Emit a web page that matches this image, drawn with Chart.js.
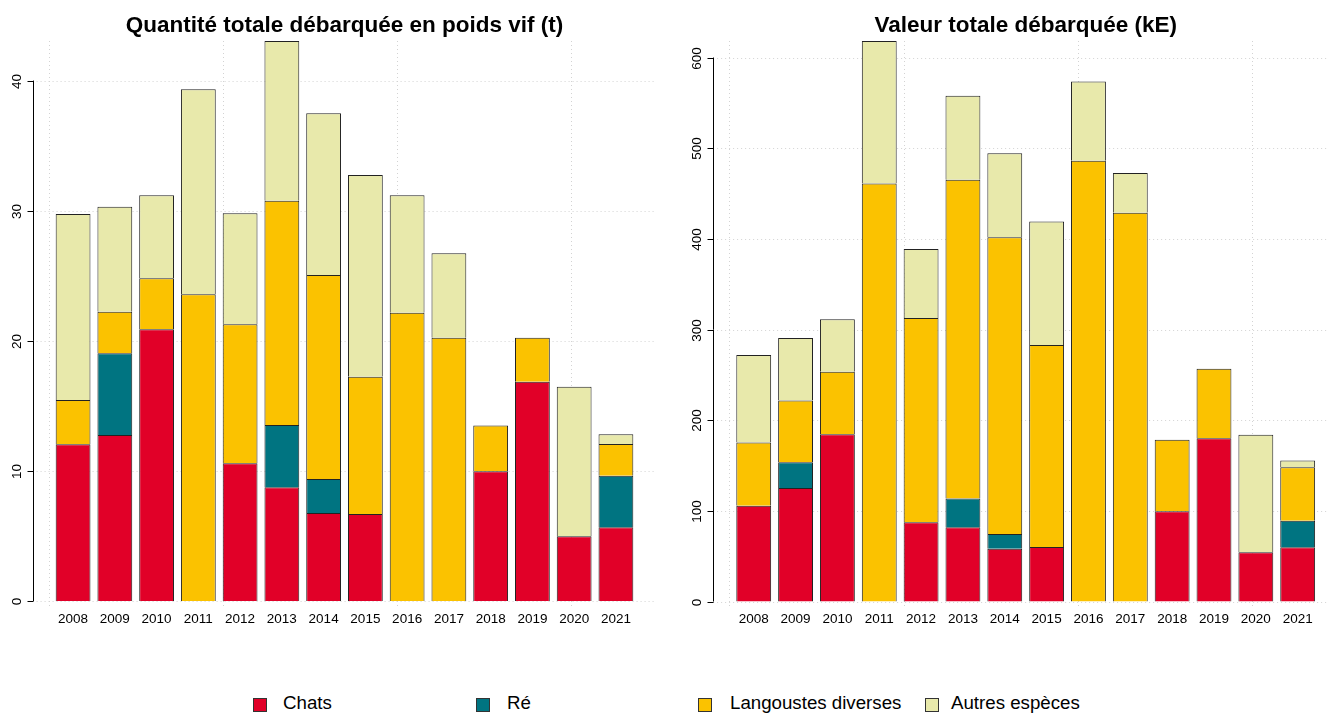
<!DOCTYPE html>
<html>
<head>
<meta charset="utf-8">
<script src="https://cdn.jsdelivr.net/npm/chart.js@4"></script>
<style>
  html, body { margin: 0; padding: 0; background: #fff; }
  body { width: 1327px; height: 713px; overflow: hidden; position: relative; font-family: "Liberation Sans", Arial, sans-serif; }
  canvas { position: absolute; top: 0; }
  #c1 { left: 0; }
  #c2 { left: 680px; }
  .leg { position: absolute; font-size: 18.7px; color: #000; white-space: nowrap; }
  .sq { position: absolute; top: 698px; width: 12px; height: 12px; border: 1px solid #333; }
  .lt { top: 692px; line-height: 22px; }
</style>
</head>
<body>
<canvas id="c1" width="680" height="640"></canvas>
<canvas id="c2" width="680" height="640"></canvas>

<div class="sq" style="left:253px;background:#E10028"></div><div class="leg lt" style="left:283px">Chats</div>
<div class="sq" style="left:476px;background:#007481"></div><div class="leg lt" style="left:507px">Ré</div>
<div class="sq" style="left:698px;background:#FBC200"></div><div class="leg lt" style="left:730px">Langoustes diverses</div>
<div class="sq" style="left:925px;background:#E8E9AB"></div><div class="leg lt" style="left:951px">Autres espèces</div>

<script>
const years = ["2008", "2009", "2010", "2011", "2012", "2013", "2014", "2015", "2016", "2017", "2018", "2019", "2020", "2021"];

// Quantité (t)
const poidsChats  = [12.04, 12.76, 20.88, 0, 10.58, 8.74, 6.76, 6.69, 0, 0, 9.97, 16.86, 4.97, 5.66];
const poidsRe     = [0, 6.28, 0, 0, 0, 4.79, 2.62, 0, 0, 0, 0, 0, 0, 3.97];
const poidsLang   = [3.4, 3.2, 3.92, 23.57, 10.69, 17.24, 15.68, 10.55, 22.16, 20.24, 3.51, 3.38, 0, 2.44];
const poidsAutres = [14.3, 8.07, 6.38, 15.76, 8.53, 12.27, 12.43, 15.5, 9.02, 6.48, 0, 0, 11.5, 0.74];
const poidsTicks  = [0, 10, 20, 30, 40];

// Valeur (kE)
const valeurChats  = [105.5, 125.3, 184.6, 0, 87.4, 81.9, 58.3, 60.2, 0, 0, 99.6, 180.2, 54.3, 59.9];
const valeurRe     = [0, 28.4, 0, 0, 0, 31.6, 16.2, 0, 0, 0, 0, 0, 0, 29.3];
const valeurLang   = [69.9, 68.1, 68.8, 461.1, 225.4, 351.6, 327.3, 222.7, 486.1, 428.7, 78.8, 76.6, 0, 59.0];
const valeurAutres = [96.5, 68.9, 57.8, 157.1, 76.1, 92.8, 92.7, 136.2, 87.3, 43.8, 0, 0, 129.6, 7.3];
const valeurTicks  = [0, 100, 200, 300, 400, 500, 600];

const COLORS = { chats: "#E10028", re: "#007481", lang: "#FBC200", autres: "#E8E9AB" };
const FONT = '"Liberation Sans", Arial, sans-serif';

// barplot units (width 1, space 0.2) -> category index
const u2i = u => (u - 0.7) / 1.2;
const U_MIN = -0.464, U_MAX = 17.464;

const rPlot = {
  id: "rPlot",
  beforeDatasetsDraw(chart, args, opts) {
    const { ctx, chartArea } = chart;
    const x = chart.scales.x, y = chart.scales.y;
    const x0 = x.getPixelForValue(u2i(U_MIN)), x1 = x.getPixelForValue(u2i(U_MAX));
    ctx.save();
    ctx.strokeStyle = "#D3D3D3";
    ctx.lineWidth = 1;
    ctx.setLineDash([1, 3]);
    opts.ticks.forEach(t => {
      const py = Math.round(y.getPixelForValue(t)) + 0.5;
      ctx.beginPath(); ctx.moveTo(x0, py); ctx.lineTo(x1, py); ctx.stroke();
    });
    [0, 5, 10, 15].forEach(u => {
      const px = Math.round(x.getPixelForValue(u2i(u))) + 0.5;
      ctx.beginPath(); ctx.moveTo(px, chartArea.top); ctx.lineTo(px, chartArea.bottom); ctx.stroke();
    });
    ctx.restore();
  },
  afterDraw(chart, args, opts) {
    const { ctx } = chart;
    const x = chart.scales.x, y = chart.scales.y;
    const x0 = x.getPixelForValue(u2i(U_MIN)), x1 = x.getPixelForValue(u2i(U_MAX));
    const ax = Math.round(x0) + 0.5;
    ctx.save();
    // y axis, R style
    ctx.strokeStyle = "#000";
    ctx.lineWidth = 1;
    ctx.beginPath();
    ctx.moveTo(ax, y.getPixelForValue(opts.ticks[0]));
    ctx.lineTo(ax, y.getPixelForValue(opts.ticks[opts.ticks.length - 1]));
    ctx.stroke();
    ctx.fillStyle = "#000";
    ctx.font = "13.5px " + FONT;
    ctx.textAlign = "center";
    ctx.textBaseline = "middle";
    opts.ticks.forEach(t => {
      const py = Math.round(y.getPixelForValue(t)) + 0.5;
      ctx.beginPath(); ctx.moveTo(ax - 6, py); ctx.lineTo(ax, py); ctx.stroke();
      ctx.save();
      ctx.translate(ax - 16, py);
      ctx.rotate(-Math.PI / 2);
      ctx.fillText(String(t), 0, 0);
      ctx.restore();
    });
    // year labels
    chart.data.labels.forEach((lab, i) => {
      ctx.fillText(lab, x.getPixelForValue(i), 619);
    });
    // title
    ctx.font = "bold 22.5px " + FONT;
    ctx.fillText(opts.title, (x0 + x1) / 2, 26);
    ctx.restore();
  }
};

function makeChart(id, title, chats, re, lang, autres, ticks, ymin, pad) {
  const totals = years.map((_, i) => chats[i] + re[i] + lang[i] + autres[i]);
  // empty segments are skipped so they leave no border line;
  // 'start' avoids doubled borders where two segments meet
  const ds = (label, data, color) => ({
    label, data: data.map(v => (v === 0 ? null : v)), backgroundColor: color,
    borderColor: "#222", borderWidth: 1, borderSkipped: "start",
    barPercentage: 1 / 1.2, categoryPercentage: 1,
  });
  return new Chart(document.getElementById(id), {
    type: "bar",
    data: {
      labels: years,
      datasets: [
        ds("Chats", chats, COLORS.chats),
        ds("Ré", re, COLORS.re),
        ds("Langoustes diverses", lang, COLORS.lang),
        ds("Autres espèces", autres, COLORS.autres),
      ],
    },
    options: {
      responsive: false,
      animation: false,
      events: [],
      layout: { padding: pad },
      plugins: { legend: { display: false }, tooltip: { enabled: false }, rPlot: { ticks, title } },
      scales: {
        x: { display: false, stacked: true, offset: true },
        y: { display: false, stacked: true, min: ymin, max: Math.max(...totals) },
      },
    },
    plugins: [rPlot],
  });
}

makeChart("c1", "Quantité totale débarquée en poids vif (t)", poidsChats, poidsRe, poidsLang, poidsAutres,
  poidsTicks, -0.46, { left: 52.2, right: 43.2, top: 41, bottom: 33 });
makeChart("c2", "Valeur totale débarquée (kE)", valeurChats, valeurRe, valeurLang, valeurAutres,
  valeurTicks, -5.7, { left: 52.8, right: 41.4, top: 41, bottom: 33.3 });
</script>
</body>
</html>
